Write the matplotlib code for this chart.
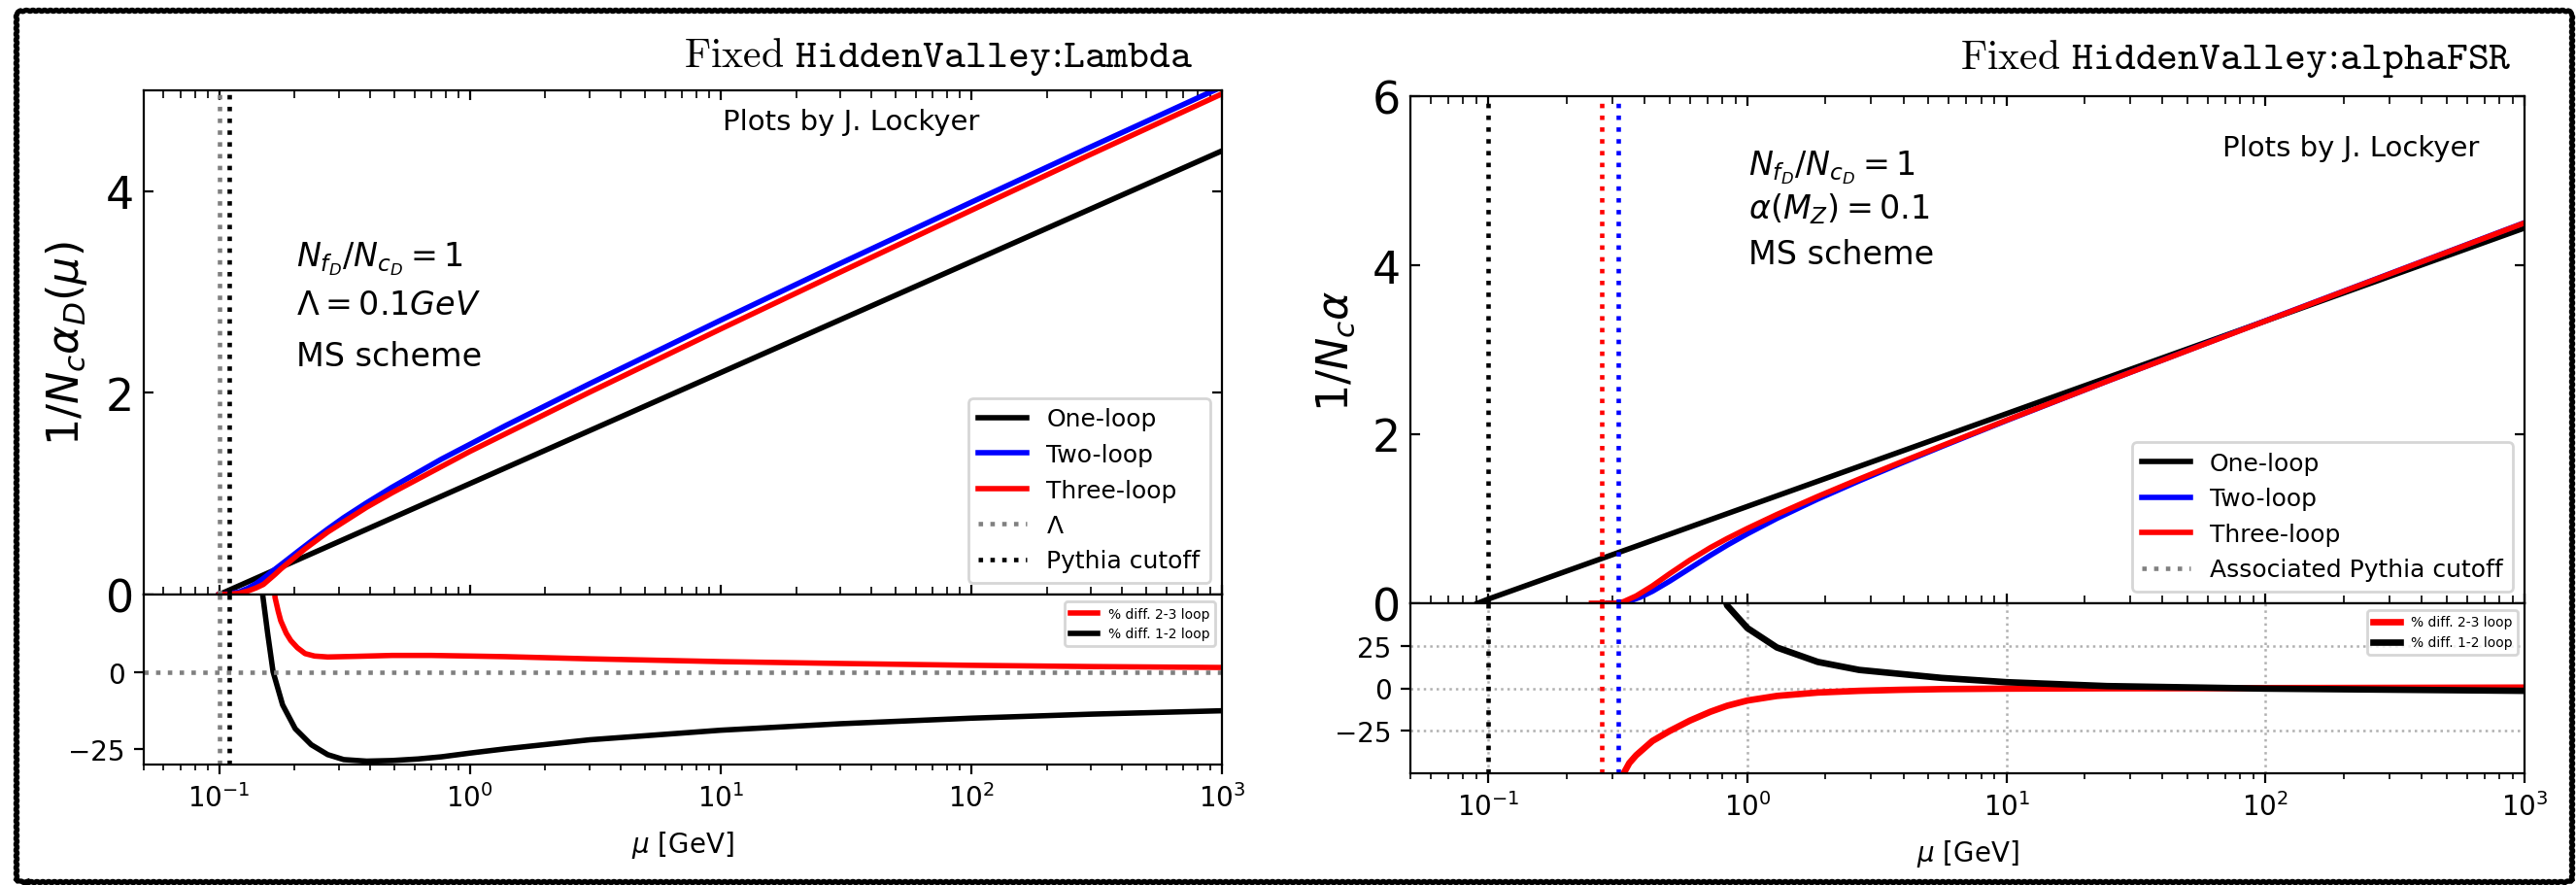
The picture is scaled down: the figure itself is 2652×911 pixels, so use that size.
import matplotlib
matplotlib.use("Agg")
import matplotlib.pyplot as plt
from matplotlib.lines import Line2D
from matplotlib.patches import FancyBboxPatch
from matplotlib.ticker import LogLocator, NullFormatter

# ---------------- data: left panel (fixed HiddenValley:Lambda) ----------------
mu_one_L = [0.1, 1.0, 10.0, 100.0, 1000.0]
one_loop_L = [0.0, 1.10, 2.20, 3.30, 4.40]

mu_two_L = [0.1, 0.11, 0.12, 0.13, 0.14, 0.15, 0.164, 0.179, 0.207, 0.233, 0.271,
            0.314, 0.387, 0.49, 0.77, 1.0, 1.39, 3.0, 10.0, 30.0, 100.0, 300.0, 1000.0]
two_loop_L = [0.0, 0.008, 0.025, 0.062, 0.107, 0.16, 0.236, 0.309, 0.431, 0.529, 0.650,
              0.763, 0.909, 1.065, 1.343, 1.49, 1.676, 2.09, 2.72, 3.283, 3.89, 4.44, 5.035]

mu_three_L = [0.1, 0.11, 0.12, 0.13, 0.14, 0.15, 0.167, 0.176, 0.193, 0.22, 0.271,
              0.387, 0.49, 1.0, 3.0, 10.0, 30.0, 100.0, 300.0, 1000.0]
three_loop_L = [0.0, 0.004, 0.013, 0.035, 0.065, 0.10, 0.20, 0.253, 0.336, 0.453, 0.620,
                0.865, 1.010, 1.419, 2.006, 2.633, 3.197, 3.810, 4.366, 4.965]

mu_d23_L = [0.163, 0.167, 0.172, 0.176, 0.185, 0.193, 0.205, 0.22, 0.24, 0.271, 0.35,
            0.49, 0.7, 1.0, 1.39, 3.0, 10.0, 30.0, 100.0, 300.0, 1000.0]
d23_L = [35.0, 24.0, 19.5, 16.5, 12.5, 10.1, 7.8, 5.9, 5.1, 4.8, 5.0,
         5.3, 5.3, 5.1, 4.9, 4.2, 3.3, 2.7, 2.1, 1.7, 1.4]

mu_d12_L = [0.146, 0.149, 0.156, 0.164, 0.179, 0.201, 0.233, 0.271, 0.314, 0.387, 0.49,
            0.62, 0.77, 1.0, 1.39, 3.0, 10.0, 30.0, 100.0, 300.0, 1000.0]
d12_L = [32.0, 25.0, 12.5, 0.0, -10.7, -18.4, -23.6, -26.8, -28.4, -28.9, -28.7,
         -28.2, -27.5, -26.3, -24.9, -22.0, -18.9, -16.8, -15.0, -13.7, -12.6]

lambda_L = 0.1
cutoff_L = 0.11

# ---------------- data: right panel (fixed HiddenValley:alphaFSR) ----------------
mu_one_R = [0.0909, 0.1, 1.0, 10.0, 100.0, 1000.0]
one_loop_R = [0.0, 0.05, 1.146, 2.243, 3.34, 4.44]

mu_two_R = [0.29, 0.318, 0.35, 0.386, 0.43, 0.5, 0.6, 0.72, 0.835, 1.0, 1.3, 1.87,
            2.7, 3.9, 5.62, 10.0, 24.4, 100.0, 1000.0]
two_loop_R = [0.0, 0.0, 0.025, 0.072, 0.142, 0.260, 0.414, 0.568, 0.687, 0.822, 1.004, 1.233,
              1.448, 1.654, 1.854, 2.162, 2.626, 3.343, 4.503]

mu_three_R = [0.25, 0.31, 0.333, 0.372, 0.43, 0.5, 0.6, 0.72, 0.835, 1.0, 1.3, 1.87,
              2.7, 3.9, 5.62, 10.0, 24.4, 100.0, 1000.0]
three_loop_R = [0.0, 0.0, 0.02, 0.087, 0.206, 0.348, 0.511, 0.659, 0.766, 0.886, 1.051, 1.265,
                1.470, 1.669, 1.863, 2.166, 2.626, 3.340, 4.50]

mu_d23_R = [0.325, 0.333, 0.35, 0.372, 0.43, 0.5, 0.6, 0.72, 0.835, 1.0, 1.3, 1.87,
            2.7, 3.9, 5.62, 10.0, 24.4, 100.0, 1000.0]
d23_R = [-65.0, -50.0, -44.0, -39.4, -31.0, -25.2, -19.0, -13.8, -10.3, -7.2, -4.5, -2.5,
         -1.5, -0.9, -0.5, -0.2, 0.0, 0.1, 0.4]

mu_d12_R = [0.8, 0.835, 1.0, 1.3, 1.87, 2.7, 5.62, 10.0, 24.4, 100.0, 1000.0]
d12_R = [58.0, 48.7, 35.4, 24.0, 15.5, 10.8, 6.1, 3.6, 1.3, -0.2, -1.5]

cutoff_one_R = 0.1
cutoff_three_R = 0.275
cutoff_two_R = 0.318

# ---------------- figure ----------------
W, H = 2652, 912
fig = plt.figure(figsize=(W / 200, H / 200), dpi=200)


def rect(x0, x1, ytop, ybot):
    return [x0 / W, 1 - ybot / H, (x1 - x0) / W, (ybot - ytop) / H]


axL = fig.add_axes(rect(148, 1258, 94, 613))
axLr = fig.add_axes(rect(148, 1258, 613, 788), sharex=axL)
axR = fig.add_axes(rect(1452, 2599, 100, 622))
axRr = fig.add_axes(rect(1452, 2599, 622, 797), sharex=axR)

LW = 2.0
DOT = 1.65


def style_main(ax, yticks, ylim):
    ax.set_xscale("log")
    ax.set_xlim(0.05, 1000)
    ax.set_ylim(*ylim)
    ax.set_yticks(yticks)
    ax.tick_params(which="both", direction="in", top=True, right=True,
                   labelbottom=False, labelsize=16.5)
    ax.tick_params(which="major", length=3.6)
    ax.tick_params(which="minor", length=3.0)
    ax.xaxis.set_minor_locator(LogLocator(base=10, subs=range(2, 10), numticks=20))
    ax.xaxis.set_minor_formatter(NullFormatter())


def style_res(ax, yticks, ylim):
    ax.set_xscale("log")
    ax.set_xlim(0.05, 1000)
    ax.set_ylim(*ylim)
    ax.set_yticks(yticks)
    ax.tick_params(which="both", labelsize=10)
    ax.xaxis.set_major_locator(LogLocator(base=10, numticks=20))
    ax.xaxis.set_minor_locator(LogLocator(base=10, subs=range(2, 10), numticks=20))
    ax.xaxis.set_minor_formatter(NullFormatter())
    ax.set_xlabel(r"$\mu$ [GeV]", fontsize=10, labelpad=6)


# ---- left main ----
axL.plot(mu_one_L, one_loop_L, color="k", lw=LW, label="One-loop")
axL.plot(mu_two_L, two_loop_L, color="b", lw=LW, label="Two-loop")
axL.plot(mu_three_L, three_loop_L, color="r", lw=LW, label="Three-loop")
axL.axvline(lambda_L, color="grey", ls=":", lw=DOT, label=r"$\Lambda$")
axL.axvline(cutoff_L, color="k", ls=":", lw=DOT, label="Pythia cutoff")
style_main(axL, [0, 2, 4], (0, 5))
axL.legend(loc="lower right", fontsize=9)

# ---- left residual ----
axLr.plot(mu_d23_L, d23_L, color="r", lw=LW, label="% diff. 2-3 loop")
axLr.plot(mu_d12_L, d12_L, color="k", lw=LW, label="% diff. 1-2 loop")
axLr.axhline(0, color="grey", ls=":", lw=DOT)
axLr.axvline(lambda_L, color="grey", ls=":", lw=DOT)
axLr.axvline(cutoff_L, color="k", ls=":", lw=DOT)
style_res(axLr, [-25, 0], (-30, 25))
axLr.legend(loc="upper right", fontsize=5)

# ---- right main ----
axR.plot(mu_one_R, one_loop_R, color="k", lw=LW, label="One-loop")
axR.plot(mu_two_R, two_loop_R, color="b", lw=LW, label="Two-loop")
axR.plot(mu_three_R, three_loop_R, color="r", lw=LW, label="Three-loop")
axR.axvline(cutoff_one_R, color="k", ls=":", lw=DOT)
axR.axvline(cutoff_three_R, color="r", ls=":", lw=DOT)
axR.axvline(cutoff_two_R, color="b", ls=":", lw=DOT)
style_main(axR, [0, 2, 4, 6], (0, 6))
handles, labels = axR.get_legend_handles_labels()
handles.append(Line2D([], [], color="grey", ls=":", lw=DOT))
labels.append("Associated Pythia cutoff")
axR.legend(handles, labels, loc="lower right", fontsize=9)

# ---- right residual ----
axRr.grid(True, which="major", ls=":", color="#b0b0b0", lw=0.9)
axRr.plot(mu_d23_R, d23_R, color="r", lw=2.4, label="% diff. 2-3 loop")
axRr.plot(mu_d12_R, d12_R, color="k", lw=2.4, label="% diff. 1-2 loop")
axRr.axvline(cutoff_one_R, color="k", ls=":", lw=DOT)
axRr.axvline(cutoff_three_R, color="r", ls=":", lw=DOT)
axRr.axvline(cutoff_two_R, color="b", ls=":", lw=DOT)
style_res(axRr, [-25, 0, 25], (-50, 50))
axRr.legend(loc="upper right", fontsize=5)

# ---- labels and annotations ----
fig.text(68 / W, 1 - 354 / H, r"$1/N_c\alpha_D(\mu)$", rotation=90,
         ha="center", va="center", fontsize=16)
fig.text(1375 / W, 1 - 361 / H, r"$1/N_c\alpha$", rotation=90,
         ha="center", va="center", fontsize=16)

fig.text(1228 / W, 1 - 58 / H, r"$\mathrm{Fixed}\ \mathtt{HiddenValley\!:\!Lambda}$",
         ha="right", va="center", fontsize=15, math_fontfamily="cm")
fig.text(2586 / W, 1 - 60 / H, r"$\mathrm{Fixed}\ \mathtt{HiddenValley\!:\!alphaFSR}$",
         ha="right", va="center", fontsize=15, math_fontfamily="cm")

fig.text(876 / W, 1 - 126 / H, "Plots by J. Lockyer", ha="center", va="center", fontsize=10.5)
fig.text(2420 / W, 1 - 153 / H, "Plots by J. Lockyer", ha="center", va="center", fontsize=10.5)

fig.text(305 / W, 1 - 267 / H, r"$N_{f_D}/N_{c_D} = 1$", ha="left", va="center", fontsize=12)
fig.text(305 / W, 1 - 315 / H, r"$\Lambda = 0.1GeV$", ha="left", va="center", fontsize=12)
fig.text(305 / W, 1 - 368 / H, "MS scheme", ha="left", va="center", fontsize=12)

fig.text(1800 / W, 1 - 173 / H, r"$N_{f_D}/N_{c_D} = 1$", ha="left", va="center", fontsize=12)
fig.text(1800 / W, 1 - 215 / H, r"$\alpha(M_Z) = 0.1$", ha="left", va="center", fontsize=12)
fig.text(1800 / W, 1 - 263 / H, "MS scheme", ha="left", va="center", fontsize=12)

# ---- hand-drawn style frame ----
frame = FancyBboxPatch((17 / W, 1 - 909 / H), (2648 - 17) / W, (909 - 12) / H,
                       boxstyle="round,pad=0,rounding_size=0.004",
                       transform=fig.transFigure, fill=False, edgecolor="k",
                       lw=1.9, zorder=10)
frame.set_sketch_params(scale=0.6, length=6, randomness=1)
fig.patches.append(frame)

fig.savefig("out.png", dpi=200)
